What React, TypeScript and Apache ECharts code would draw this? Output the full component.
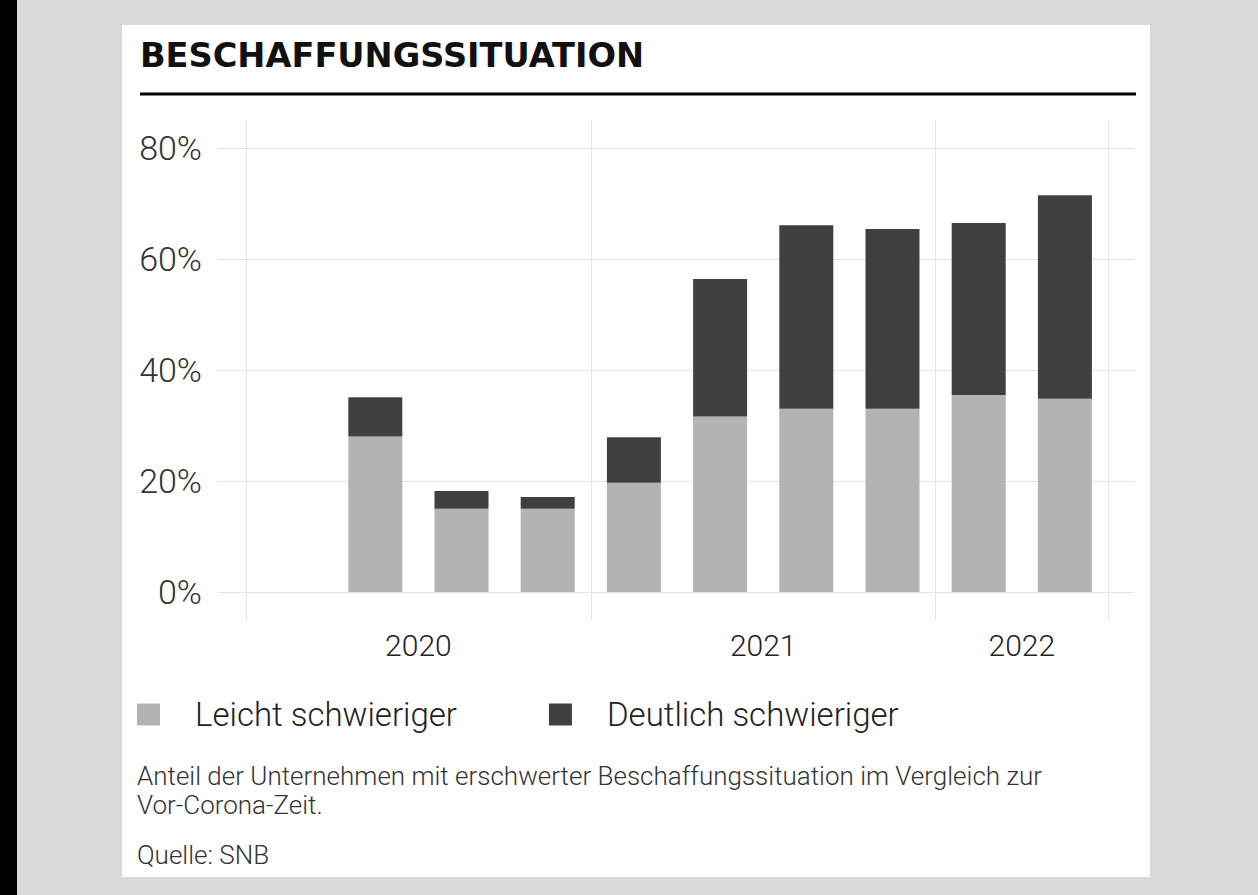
import React, { useEffect, useRef } from 'react';
import * as echarts from 'echarts';

// ---- data ----
const quarters = [
  '2020 Q1', '2020 Q2', '2020 Q3', '2020 Q4',
  '2021 Q1', '2021 Q2', '2021 Q3', '2021 Q4',
  '2022 Q1', '2022 Q2',
];
const leichtSchwieriger = [null, 28, 15, 15, 19.7, 31.6, 33, 33, 35.5, 34.8];
const deutlichSchwieriger = [null, 7.1, 3.2, 2.1, 8.2, 24.8, 33.1, 32.4, 31, 36.7];
const seriesNames = ['Leicht schwieriger', 'Deutlich schwieriger'];
const yMin = 0;
const yMax = 80;
const yStep = 20;
const titleText = 'BESCHAFFUNGSSITUATION';
const noteLines = [
  'Anteil der Unternehmen mit erschwerter Beschaffungssituation im Vergleich zur',
  'Vor-Corona-Zeit.',
];
const sourceText = 'Quelle: SNB';

// year labels centred over each year's quarters
const years = Array.from(new Set(quarters.map((q) => q.slice(0, 4))));
const yearCenters = years.map((y) => {
  const idx = quarters.map((q, i) => (q.startsWith(y) ? i : -1)).filter((i) => i >= 0);
  return idx[0] + idx.length / 2;
});

const LIGHT = '#b3b3b3';
const DARK = '#404040';
const GRIDC = '#e4e4e4';
const FONT = 'Roboto';

export default function App() {
  const ref = useRef<HTMLDivElement>(null);
  useEffect(() => {
    if (!ref.current) return;
    const chart = echarts.init(ref.current, null, { renderer: 'svg' });
    const option: any = {
      animation: false,
      backgroundColor: '#d9d9d9',
      textStyle: { fontFamily: FONT },
      grid: [
        { left: 246, width: 862, top: 120, height: 500 },
        { left: 246, width: 862, top: 148, height: 444 },
        { left: 217, width: 918, top: 148, height: 444 },
      ],
      xAxis: [
        {
          type: 'category', gridIndex: 0, data: quarters, boundaryGap: true,
          axisLine: { show: false }, axisTick: { show: false }, axisLabel: { show: false },
          splitLine: {
            show: true,
            interval: (i: number) => quarters[i].endsWith('Q1'),
            lineStyle: { color: GRIDC, width: 1 },
          },
        },
        {
          type: 'category', gridIndex: 1, data: quarters, boundaryGap: true, show: false,
        },
        { type: 'value', gridIndex: 2, show: false, min: 0, max: 1 },
        {
          type: 'value', gridIndex: 0, position: 'bottom', min: 0, max: quarters.length, interval: 1,
          axisLine: { show: false }, axisTick: { show: false }, splitLine: { show: false },
          axisLabel: {
            margin: 10,
            fontFamily: FONT, fontWeight: 300, fontSize: 30, color: '#222',
            formatter: (v: number) => {
              const k = yearCenters.indexOf(v);
              return k >= 0 ? years[k] : '';
            },
          },
        },
      ],
      yAxis: [
        { type: 'value', gridIndex: 0, show: false, min: 0, max: 1 },
        {
          type: 'value', gridIndex: 1, min: yMin, max: yMax, interval: yStep,
          axisLine: { show: false }, axisTick: { show: false }, splitLine: { show: false },
          axisLabel: {
            margin: 44, fontFamily: FONT, fontWeight: 300, fontSize: 34, color: '#333',
            formatter: '{value}%',
          },
        },
        {
          type: 'value', gridIndex: 2, min: yMin, max: yMax, interval: yStep,
          axisLine: { show: false }, axisTick: { show: false }, axisLabel: { show: false },
          splitLine: { show: true, lineStyle: { color: GRIDC, width: 1 } },
        },
      ],
      legend: {
        left: 137, top: 698, padding: 0, icon: 'rect', itemWidth: 23, itemHeight: 22, itemGap: 92,
        data: seriesNames,
        textStyle: {
          fontFamily: FONT, fontWeight: 300, fontSize: 33, color: '#222', padding: [0, 0, 0, 30],
        },
      },
      series: [
        {
          name: seriesNames[0], type: 'bar', stack: 'total', xAxisIndex: 1, yAxisIndex: 1,
          barWidth: 54, data: leichtSchwieriger, itemStyle: { color: LIGHT },
        },
        {
          name: seriesNames[1], type: 'bar', stack: 'total', xAxisIndex: 1, yAxisIndex: 1,
          barWidth: 54, data: deutlichSchwieriger, itemStyle: { color: DARK },
        },
      ],
      graphic: [
        { type: 'rect', z: -10, shape: { x: 0, y: 0, width: 17, height: 895 }, style: { fill: '#000' } },
        { type: 'rect', z: -10, shape: { x: 122, y: 25, width: 1028, height: 852 }, style: { fill: '#fff' } },
        {
          type: 'text', x: 140, y: 55,
          style: {
            text: titleText, fill: '#111', font: 'bold 33.6px "DejaVu Sans"',
            verticalAlign: 'middle', align: 'left',
          },
        },
        {
          type: 'line', shape: { x1: 140, y1: 94, x2: 1136, y2: 94 },
          style: { stroke: '#000', lineWidth: 3 },
        },
        {
          type: 'text', x: 137, y: 776,
          style: { text: noteLines[0], fill: '#333', font: '300 26px Roboto', verticalAlign: 'middle' },
        },
        {
          type: 'text', x: 137, y: 805,
          style: { text: noteLines[1], fill: '#333', font: '300 26px Roboto', verticalAlign: 'middle' },
        },
        {
          type: 'text', x: 137, y: 855,
          style: { text: sourceText, fill: '#333', font: '300 26px Roboto', verticalAlign: 'middle' },
        },
      ],
    };
    chart.setOption(option);
    return () => chart.dispose();
  }, []);
  return (
    <div
      ref={ref}
      style={{ position: 'fixed', left: 0, top: 0, width: 1258, height: 895 }}
    />
  );
}
